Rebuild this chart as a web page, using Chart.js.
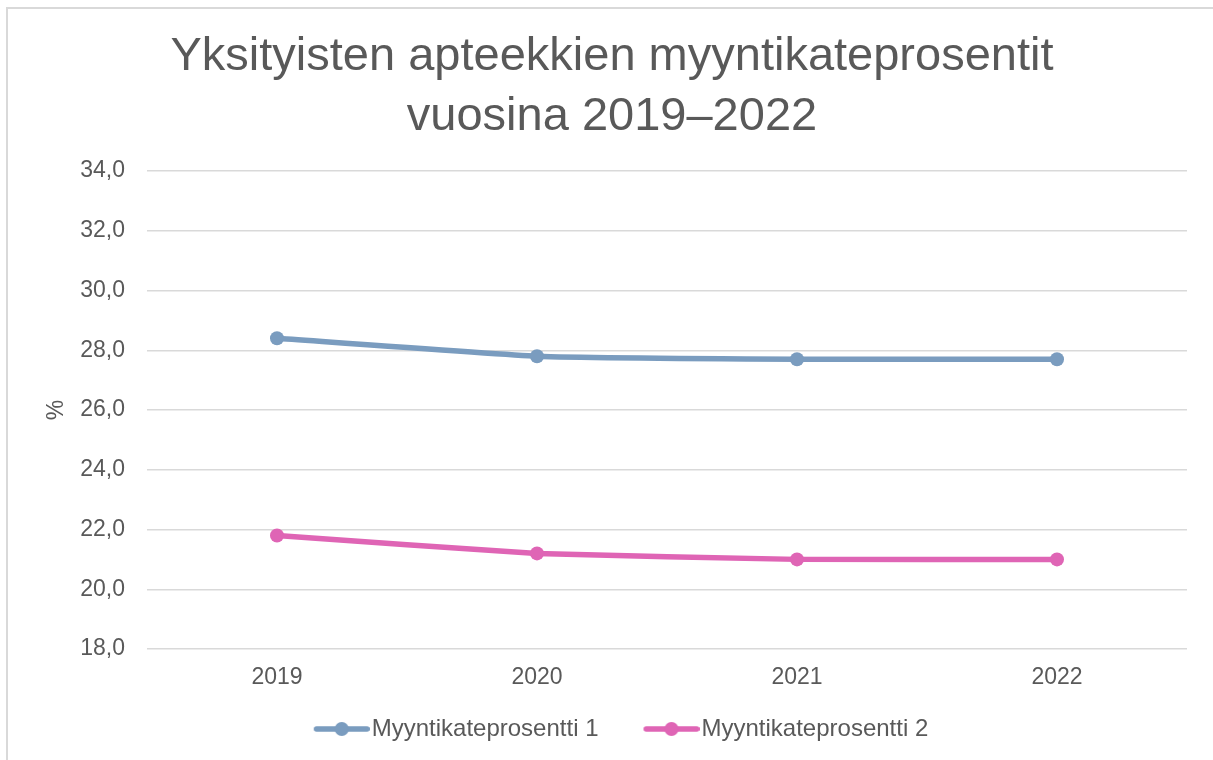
<!DOCTYPE html>
<html>
<head>
<meta charset="utf-8">
<script src="https://cdn.jsdelivr.net/npm/chart.js@4"></script>
<style>
  html, body { margin: 0; padding: 0; background: #fff; }
  #wrap { position: relative; width: 1213px; height: 760px; overflow: hidden; }
  #frame { position: absolute; left: 6px; top: 7px; width: 1300px; height: 900px;
           border-left: 2px solid #d9d9d9; border-top: 2px solid #d9d9d9; }
  canvas { position: absolute; left: 0; top: 0; }
</style>
</head>
<body>
<div id="wrap">
  <div id="frame"></div>
  <canvas id="chart" width="1213" height="760"></canvas>
</div>
<script>
const years = ['2019', '2020', '2021', '2022'];
const margin1 = [28.4, 27.8, 27.7, 27.7];
const margin2 = [21.8, 21.2, 21.0, 21.0];
const seriesNames = ['Myyntikateprosentti 1', 'Myyntikateprosentti 2'];
const yMin = 18;
const yMax = 34;
const yStep = 2;

const blue = '#7a9cbf';
const pink = '#df65b5';
const textColor = '#595959';
const fontFamily = "'Liberation Sans', Arial, sans-serif";

// line + dot marker for the legend (transparent space on the left keeps the gap between items)
function legendMarker(color) {
  const c = document.createElement('canvas');
  c.width = 84;
  c.height = 24;
  const g = c.getContext('2d');
  g.strokeStyle = color;
  g.lineWidth = 5.5;
  g.lineCap = 'round';
  g.beginPath();
  g.moveTo(30.75, 12);
  g.lineTo(81.25, 12);
  g.stroke();
  g.fillStyle = color;
  g.beginPath();
  g.arc(56, 12, 7, 0, Math.PI * 2);
  g.fill();
  return c;
}

const ctx = document.getElementById('chart').getContext('2d');
new Chart(ctx, {
  type: 'line',
  data: {
    labels: years,
    datasets: [
      {
        label: seriesNames[0],
        data: margin1,
        borderColor: blue,
        backgroundColor: blue,
        borderWidth: 5.5,
        pointRadius: 7,
        pointBorderWidth: 0,
        tension: 0.12,
        legendMarker: legendMarker(blue)
      },
      {
        label: seriesNames[1],
        data: margin2,
        borderColor: pink,
        backgroundColor: pink,
        borderWidth: 5.5,
        pointRadius: 7,
        pointBorderWidth: 0,
        tension: 0.12,
        legendMarker: legendMarker(pink)
      }
    ]
  },
  options: {
    responsive: false,
    animation: false,
    layout: {
      padding: { left: 37, right: 26, top: 0, bottom: 9 }
    },
    plugins: {
      title: {
        display: true,
        text: ['Yksityisten apteekkien myyntikateprosentit', 'vuosina 2019–2022'],
        color: textColor,
        font: { family: fontFamily, size: 47, weight: 'normal', lineHeight: 60 / 47 },
        padding: { top: 27, bottom: 24 }
      },
      legend: {
        position: 'bottom',
        labels: {
          color: textColor,
          font: { family: fontFamily, size: 24 },
          usePointStyle: true,
          pointStyleWidth: 64,
          padding: 27,
          generateLabels: function(chart) {
            return chart.data.datasets.map((ds, i) => ({
              text: ds.label,
              pointStyle: ds.legendMarker,
              fontColor: textColor,
              datasetIndex: i,
              hidden: false,
              lineWidth: 0
            }));
          }
        }
      },
      tooltip: { enabled: false }
    },
    scales: {
      x: {
        offset: true,
        grid: { display: false, drawTicks: false },
        border: { display: false },
        ticks: {
          color: textColor,
          font: { family: fontFamily, size: 23 },
          padding: 15
        },
        afterFit: function(axis) {
          axis.height = 41;
        }
      },
      y: {
        min: yMin,
        max: yMax,
        grid: { color: '#d9d9d9', lineWidth: 1.5, drawTicks: false },
        border: { display: false },
        ticks: {
          stepSize: yStep,
          color: textColor,
          font: { family: fontFamily, size: 23 },
          padding: 22,
          callback: function(value) {
            return value.toFixed(1).replace('.', ',');
          }
        },
        title: {
          display: true,
          text: '%',
          color: textColor,
          font: { family: fontFamily, size: 23 },
          padding: { top: 6, bottom: 0 }
        },
        afterFit: function(axis) {
          axis.width = 110;
        }
      }
    }
  }
});
</script>
</body>
</html>
